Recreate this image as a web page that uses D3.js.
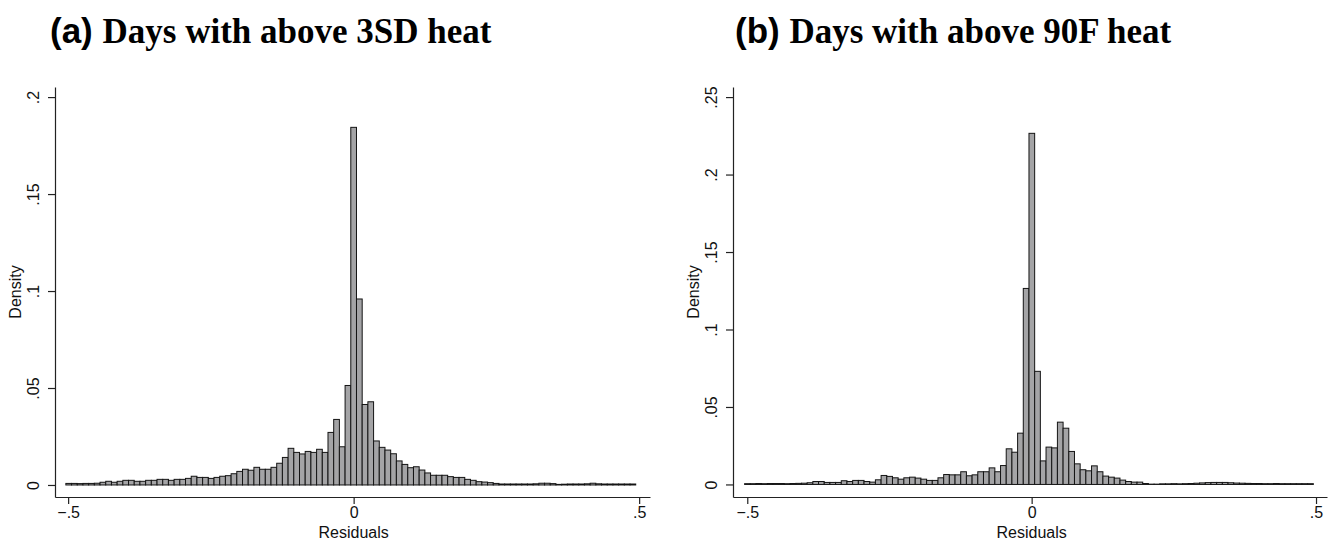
<!DOCTYPE html>
<html>
<head>
<meta charset="utf-8">
<script src="https://cdn.jsdelivr.net/npm/d3@7"></script>
<style>
  html, body { margin: 0; padding: 0; background: #fff; }
  svg { display: block; }
</style>
</head>
<body>
<svg id="chart" width="1333" height="539"></svg>
<script>
// ---------------- data ----------------
const panelLabels = ["(a)", "(b)"];
const panelTitles = ["Days with above 3SD heat", "Days with above 90F heat"];
const xTickValues = [-0.5, 0, 0.5];
const xTickLabels = ["\u2212.5", "0", ".5"];
const yTickValuesA = [0, 0.05, 0.1, 0.15, 0.2];
const yTickLabelsA = ["0", ".05", ".1", ".15", ".2"];
const yTickValuesB = [0, 0.05, 0.1, 0.15, 0.2, 0.25];
const yTickLabelsB = ["0", ".05", ".1", ".15", ".2", ".25"];
const xTitle = "Residuals";
const yTitle = "Density";

// histogram bins: start of first bin and bin width (residual units)
const binStartA = -0.5040, binWidthA = 0.00998;
const binStartB = -0.5047, binWidthB = 0.0100;

// density per bin (100 bins each)
const densityA = [
  0.0008, 0.0008, 0.0007, 0.0008, 0.0008, 0.0009, 0.0014, 0.0019, 0.0014, 0.0019,
  0.0024, 0.0024, 0.0019, 0.0019, 0.0024, 0.0024, 0.0029, 0.0029, 0.0024, 0.0029,
  0.0029, 0.0034, 0.0045, 0.0039, 0.0039, 0.0034, 0.0039, 0.0045, 0.0048, 0.0058,
  0.0070, 0.0081, 0.0076, 0.0091, 0.0081, 0.0081, 0.0091, 0.0112, 0.0142, 0.0189,
  0.0168, 0.0160, 0.0173, 0.0168, 0.0184, 0.0168, 0.0271, 0.0338, 0.0197, 0.0513,
  0.1844, 0.0959, 0.0415, 0.0429, 0.0227, 0.0194, 0.0180, 0.0161, 0.0124, 0.0106,
  0.0089, 0.0094, 0.0077, 0.0062, 0.0050, 0.0050, 0.0050, 0.0043, 0.0039, 0.0039,
  0.0029, 0.0024, 0.0017, 0.0015, 0.0012, 0.0008, 0.0005, 0.0005, 0.0005, 0.0005,
  0.0005, 0.0005, 0.0006, 0.0009, 0.0009, 0.0007, 0.0003, 0.0004, 0.0005, 0.0005,
  0.0005, 0.0006, 0.0009, 0.0006, 0.0005, 0.0005, 0.0005, 0.0005, 0.0005, 0.0005
];
const densityB = [
  0.0005, 0.0005, 0.0006, 0.0005, 0.0006, 0.0006, 0.0006, 0.0005, 0.0006, 0.0007,
  0.0008, 0.0011, 0.0019, 0.0019, 0.0013, 0.0013, 0.0013, 0.0024, 0.0019, 0.0026,
  0.0026, 0.0019, 0.0015, 0.0030, 0.0058, 0.0052, 0.0043, 0.0034, 0.0043, 0.0047,
  0.0041, 0.0034, 0.0026, 0.0026, 0.0043, 0.0064, 0.0062, 0.0062, 0.0082, 0.0056,
  0.0062, 0.0082, 0.0082, 0.0107, 0.0082, 0.0122, 0.0230, 0.0208, 0.0331, 0.1265,
  0.2266, 0.0730, 0.0152, 0.0241, 0.0236, 0.0402, 0.0363, 0.0213, 0.0133, 0.0095,
  0.0088, 0.0120, 0.0082, 0.0054, 0.0047, 0.0041, 0.0028, 0.0019, 0.0015, 0.0015,
  0.0006, 0.0002, 0.0002, 0.0004, 0.0004, 0.0005, 0.0004, 0.0005, 0.0006, 0.0008,
  0.0010, 0.0012, 0.0013, 0.0013, 0.0013, 0.0011, 0.0009, 0.0008, 0.0007, 0.0006,
  0.0006, 0.0005, 0.0005, 0.0006, 0.0005, 0.0005, 0.0005, 0.0005, 0.0005, 0.0005
];

// ---------------- drawing ----------------
const svg = d3.select("#chart");
const SANS = "'Liberation Sans', Arial, Helvetica, sans-serif";
const SERIF = "'Liberation Serif', 'Times New Roman', serif";

const panels = [
  {
    label: panelLabels[0], title: panelTitles[0],
    values: densityA, start: binStartA, width: binWidthA,
    yTicks: yTickValuesA, yLabels: yTickLabelsA,
    xDomain: [-0.523, 0.519], xRange: [55, 650],
    yDomain: [-0.0062, 0.2052], yRange: [497, 87],
    titleX: 50, yTickLabelX: 38.5, yTitleX: 21
  },
  {
    label: panelLabels[1], title: panelTitles[1],
    values: densityB, start: binStartB, width: binWidthB,
    yTicks: yTickValuesB, yLabels: yTickLabelsB,
    xDomain: [-0.5251, 0.5193], xRange: [733, 1327],
    yDomain: [-0.0081, 0.2565], yRange: [497, 87],
    titleX: 735, yTickLabelX: 716.5, yTitleX: 699
  }
];

panels.forEach(p => {
  const g = svg.append("g");
  const x = d3.scaleLinear().domain(p.xDomain).range(p.xRange);
  const y = d3.scaleLinear().domain(p.yDomain).range(p.yRange);

  // bars
  const bins = p.values.map((v, i) => ({
    x0: p.start + i * p.width,
    x1: p.start + (i + 1) * p.width,
    v: v
  }));
  g.append("g").selectAll("rect").data(bins).join("rect")
    .attr("x", d => x(d.x0))
    .attr("width", d => x(d.x1) - x(d.x0))
    .attr("y", d => y(d.v))
    .attr("height", d => y(0) - y(d.v))
    .attr("fill", "#a4a4a6")
    .attr("stroke", "#141414")
    .attr("stroke-width", 1);

  // x axis
  const xAxis = d3.axisBottom(x)
    .tickValues(xTickValues)
    .tickFormat((d, i) => xTickLabels[i])
    .tickSize(7)
    .tickSizeOuter(0);
  const gx = g.append("g")
    .attr("transform", `translate(0,${p.yRange[0]})`)
    .call(xAxis);
  gx.select(".domain").attr("stroke", "#222").attr("stroke-width", 1.2);
  gx.selectAll(".tick line").attr("stroke", "#222").attr("stroke-width", 1.2);
  gx.selectAll(".tick text")
    .attr("font-family", SANS).attr("font-size", 16).attr("fill", "#111")
    .attr("dy", "0.71em").attr("y", 10);

  // y axis
  const yAxis = d3.axisLeft(y)
    .tickValues(p.yTicks)
    .tickFormat((d, i) => p.yLabels[i])
    .tickSize(7)
    .tickSizeOuter(0);
  const gy = g.append("g")
    .attr("transform", `translate(${p.xRange[0]},0)`)
    .call(yAxis);
  gy.select(".domain").attr("stroke", "#222").attr("stroke-width", 1.2);
  gy.selectAll(".tick line").attr("stroke", "#222").attr("stroke-width", 1.2);
  gy.selectAll(".tick text").remove();
  gy.selectAll(".tick").append("text")
    .attr("transform", `translate(${p.yTickLabelX - p.xRange[0]},0) rotate(-90)`)
    .attr("text-anchor", "middle")
    .attr("font-family", SANS).attr("font-size", 16).attr("fill", "#111")
    .text((d, i) => p.yLabels[i]);

  // axis titles
  g.append("text")
    .attr("x", x(0)).attr("y", 537.5)
    .attr("text-anchor", "middle")
    .attr("font-family", SANS).attr("font-size", 16).attr("fill", "#111")
    .text(xTitle);
  g.append("text")
    .attr("transform", `translate(${p.yTitleX},${(p.yRange[0] + p.yRange[1]) / 2}) rotate(-90)`)
    .attr("text-anchor", "middle")
    .attr("font-family", SANS).attr("font-size", 16).attr("fill", "#111")
    .text(yTitle);

  // panel title
  const t = g.append("text")
    .attr("x", p.titleX).attr("y", 43)
    .attr("fill", "#000");
  t.append("tspan")
    .attr("font-family", SANS).attr("font-weight", "bold").attr("font-size", 35)
    .text(p.label + " ");
  t.append("tspan")
    .attr("font-family", SERIF).attr("font-weight", "bold").attr("font-size", 35)
    .text(p.title);
});
</script>
</body>
</html>
